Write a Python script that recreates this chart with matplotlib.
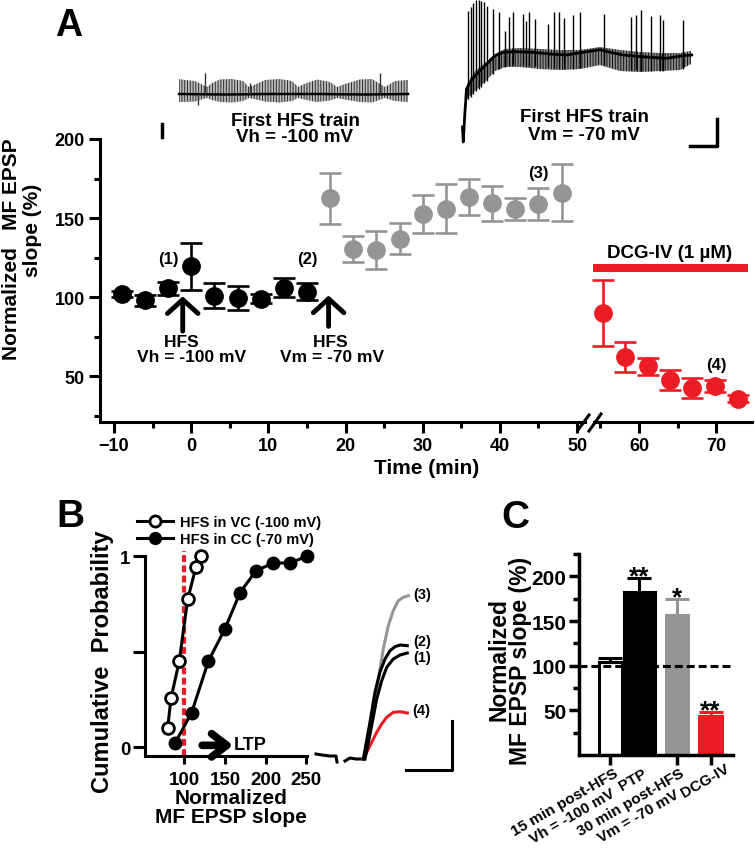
import matplotlib
matplotlib.use('Agg')
import matplotlib.pyplot as plt
from matplotlib.lines import Line2D

plt.rcParams['font.family'] = ['Liberation Sans', 'DejaVu Sans']
plt.rcParams['font.weight'] = 'bold'
plt.rcParams['axes.linewidth'] = 2.2
plt.rcParams['hatch.linewidth'] = 0.7

RED = '#ec1c24'
GRAY = '#959595'

# ---------------- Panel A data ----------------
t_base = [-9, -6, -3, 0, 3, 6, 9, 12, 15]
v_base = [102, 98, 105.5, 119.5, 101, 99.5, 99, 106, 103.5]
e_base = [2, 3.4, 4, 15, 8, 7.5, 3, 6, 5.5]
t_ltp = [18, 21, 24, 27, 30, 33, 36, 39, 42, 45, 48]
v_ltp = [162.5, 130.5, 130, 137, 152.3, 156, 163.5, 159.3, 155.7, 158.7, 166]
e_ltp = [16, 8, 12, 10, 12, 15.5, 11.5, 11, 7, 10, 18]
t_dcg = [55.3, 58.2, 61.2, 64, 66.9, 69.9, 72.8]
v_dcg = [90, 62.2, 56.3, 47.5, 42.6, 43.7, 35.8]
e_dcg = [21, 9.5, 5.3, 6.3, 6.5, 3.7, 2]
dcg_period = [54.0, 74.2]

# ---------------- Panel B data ----------------
vc_x = [79.6, 83.6, 93.8, 104.2, 114.4, 120.6]
vc_y = [0.10, 0.255, 0.45, 0.775, 0.945, 1.0]
cc_x = [88.5, 109, 129.6, 150, 168.6, 188.3, 209.6, 230, 250.7]
cc_y = [0.02, 0.18, 0.45, 0.62, 0.81, 0.925, 0.965, 0.965, 1.0]

# EPSP traces (inset units)
bl1_t = [16, 22, 30, 36, 37]
bl1_v = [25, 24, 23, 23, 17]
bl2_t = [45, 50, 56, 63]
bl2_v = [18, 21, 20, 20]
tr3_t = [63.3, 68.3, 73.3, 78.3, 83.3, 88.3, 93.3, 98.3, 103.3, 108.3]
tr3_v = [20, 40, 66.7, 100, 130, 153.3, 168.3, 178.3, 181.7, 183.3]
tr2_t = [63.3, 70, 75, 80, 85, 90, 95, 100, 107.3]
tr2_v = [20, 57, 87, 107, 120, 128.3, 132.3, 134, 133.3]
tr1_t = [65, 71.7, 76.7, 81.7, 86.7, 93.3, 100, 107.3]
tr1_v = [20, 53.3, 80, 98.3, 111.7, 120, 124, 126]
tr4_t = [63.3, 66.7, 71.7, 76.7, 81.7, 86.7, 93.3, 100, 107.3]
tr4_v = [20, 26.7, 36.7, 46.7, 55, 61.7, 66.7, 67.3, 66]

# ---------------- Panel C data ----------------
c_labels = ['15 min post-HFS\nVh = -100 mV', 'PTP', '30 min post-HFS\nVm = -70 mV', 'DCG-IV']
c_vals = [104.5, 183, 156.7, 44]
c_err = [4, 15, 18, 3.8]
c_pos = [0, 0.87, 2, 3]
c_stars = ['', '**', '*', '**']

# ---------------- HFS train traces (inset units) ----------------
h1_x = [179, 185, 195, 203, 207, 212, 220, 232, 243, 249, 254, 265, 280, 292, 298, 304, 317, 330, 337, 345, 360, 372, 385, 395, 408]
h1_top = [80, 81, 82, 86, 88, 84, 80.5, 80, 82, 88, 86, 81, 80, 82, 88, 85, 80.5, 83, 88, 85, 80.5, 80, 88, 82, 81]
h1_bot = [103, 103, 102.5, 100, 99, 101, 103, 103.5, 102, 99, 100, 102.5, 103.5, 102, 99, 100.5, 103, 101.5, 99, 100.5, 103, 103.5, 99, 102, 103]
h1_base = [95, 95.5, 95, 95, 95.5, 95]
h1_base_x = [179, 225, 270, 320, 365, 408]
h1_spk_x = [198, 205, 250, 380]
h1_spk_top = [95, 74, 84, 74]
h1_spk_bot = [106, 95, 95, 95]

h2_x = [462.5, 463.3, 464.5, 466.5, 470, 475, 480, 485, 490, 495, 503.3, 516.7, 533.3, 550, 566.7, 583.3, 600, 610, 623.3, 636.7, 650, 666.7, 683.3, 691.7]
h2_y = [128, 143, 120, 90, 83.3, 76.7, 71.7, 66.7, 61.7, 56.7, 53.3, 52.7, 53.3, 55, 56, 53.3, 50.7, 53.3, 56, 57.3, 58.3, 59.3, 56.7, 56]
h2_band_x = [467, 475, 485, 495, 505, 520, 540, 560, 580, 600, 620, 640, 660, 680, 691]
h2_band_lo = [100, 92, 83, 72, 68, 68, 70, 71, 70, 66, 72, 73, 72, 71, 65]
h2_band_hi = [85, 72, 64, 55, 50, 49, 50, 51, 51, 48, 51, 53, 54, 54, 52]
h2_spk_x = [468.3, 470.7, 473.3, 476, 478.7, 481.3, 484, 486.7, 492.7, 499.3, 505, 509.3, 513.3, 522.7, 526, 529, 535, 548.3, 554.3, 559, 564.3, 573.3, 580, 604.3, 631, 635.7, 641, 651, 660, 663.3, 683.3]
h2_spk_top = [11.7, 8.3, 4, 1, 0.7, 1.7, 3.3, 6.7, 10, 12.7, 31.7, 18.3, 13.3, 15, 21.7, 13.3, 20, 25, 13.3, 12.7, 19.3, 16, 12.7, 15, 18.3, 16, 10.7, 17.3, 16, 20.7, 20.7]
h2_spk_bot = [100, 98, 95, 92, 90, 88, 84, 82, 75, 70, 68, 66, 66, 66, 67, 67, 67, 68, 69, 69, 70, 70, 69, 66, 71, 71, 72, 72, 72, 72, 70]

W, H = 755, 853
fig = plt.figure(figsize=(W / 100, H / 100), dpi=100)


def fx(px):
    return px / W


def fy(py):
    return 1 - py / H


def box(l, t, r, b):
    return [fx(l), fy(b), (r - l) / W, (b - t) / H]


# ======================= Panel A =======================
axA1 = fig.add_axes(box(100, 140, 585, 423))
axA2 = fig.add_axes(box(594, 140, 752, 423))
for ax in (axA1, axA2):
    ax.set_ylim(21, 200)
    ax.spines[['top', 'right']].set_visible(False)
    ax.patch.set_alpha(0)
axA1.set_xlim(-11.82, 51.03)
axA2.set_xlim(54.16, 74.67)
axA2.spines['left'].set_visible(False)
axA2.set_yticks([])

ekw = dict(fmt='o', ms=12.5, capsize=8, elinewidth=1.9, capthick=1.9, clip_on=False, zorder=3)
axA1.errorbar(t_base, v_base, yerr=e_base, color='black', **ekw)
axA1.errorbar(t_ltp, v_ltp, yerr=e_ltp, color=GRAY, **ekw)
axA2.errorbar(t_dcg, v_dcg, yerr=e_dcg, color=RED, **ekw)

axA1.set_xticks([-10, 0, 10, 20, 30, 40, 50])
axA1.set_xticks([-5, 5, 15, 25, 35, 45], minor=True)
axA2.set_xticks([60, 70])
axA2.set_xticks([55, 65], minor=True)
axA1.set_yticks([50, 100, 150, 200])
axA1.set_yticks([25, 75, 125, 175], minor=True)
for ax in (axA1, axA2):
    ax.tick_params(which='major', length=8, width=2.2, labelsize=13, pad=3)
    ax.tick_params(which='minor', length=4, width=2.2)

# break marks
for (x0, y0, x1, y1) in [(578, 431, 589, 416), (589, 432, 601, 415)]:
    fig.add_artist(Line2D([fx(x0), fx(x1)], [fy(y0), fy(y1)], color='black', lw=2.2,
                          transform=fig.transFigure))

axA1.text(-3, 124.5, '(1)', ha='center', va='center', fontsize=12)
axA1.text(15, 124.5, '(2)', ha='center', va='center', fontsize=12)
axA1.text(45, 178.5, '(3)', ha='center', va='center', fontsize=12)
axA2.text(70, 57.5, '(4)', ha='center', va='center', fontsize=12)

arw = dict(arrowstyle='->,head_length=0.5,head_width=0.55', lw=3.5, color='black',
           mutation_scale=20, shrinkA=0, shrinkB=0)
axA1.annotate('', xy=(-1.1, 100.5), xytext=(-1.1, 78.5), arrowprops=arw)
axA1.text(0.0, 67, 'HFS    \nVh = -100 mV', ha='center', va='center', fontsize=12.5,
          multialignment='center', linespacing=1.0)
axA1.annotate('', xy=(17.8, 101), xytext=(17.8, 81.5), arrowprops=arw)
axA1.text(18.3, 67, 'HFS \nVm = -70 mV', ha='center', va='center', fontsize=12.5,
          multialignment='center', linespacing=1.0)

axA2.plot(dcg_period, [118.4, 118.4], color=RED, lw=5.8, solid_capstyle='butt', clip_on=False)
axA2.text(64.0, 128.5, 'DCG-IV (1 µM)', ha='center', va='center', fontsize=13.5)

fig.text(fx(11.5), fy(249), 'Normalized   MF EPSP', rotation=90, ha='center', va='center', fontsize=15)
fig.text(fx(32.5), fy(230), 'slope (%)', rotation=90, ha='center', va='center', fontsize=15)
fig.text(fx(427), fy(469), 'Time (min)', ha='center', va='center', fontsize=15)

# ======================= HFS traces =======================
axT = fig.add_axes(box(0, 0, 755, 160))
axT.set_xlim(0, 755)
axT.set_ylim(160, 0)
axT.axis('off')
axT.fill_between(h1_x, h1_top, h1_bot, facecolor='#bdbdbd', edgecolor='#2e2e2e', hatch='||||||', lw=0)
axT.plot(h1_base_x, h1_base, color='black', lw=1.8)
axT.vlines(h1_spk_x, h1_spk_top, h1_spk_bot, color='#333333', lw=1.0)
axT.fill_between(h2_band_x, h2_band_hi, h2_band_lo, facecolor='#8a8a8a', edgecolor='#151515', hatch='||||||', lw=0)
axT.vlines(h2_spk_x, h2_spk_top, h2_spk_bot, color='black', lw=1.0)
axT.plot(h2_x, h2_y, color='black', lw=2.0)
# scale bars
axT.plot([161.7, 161.7], [125, 138], color='black', lw=2.5)
axT.plot([690, 717, 717], [147, 147, 120], color='black', lw=2.5)
axT.text(295, 122, 'First HFS train', ha='center', va='center', fontsize=13.5)
axT.text(295, 137.5, 'Vh = -100 mV', ha='center', va='center', fontsize=13.5)
axT.text(584, 117, 'First HFS train', ha='center', va='center', fontsize=13.5)
axT.text(584, 135, 'Vm = -70 mV', ha='center', va='center', fontsize=13.5)

# ======================= Panel B =======================
axB = fig.add_axes(box(145, 557.3, 306.7, 757))
axB.set_xlim(51.7, 250.5)
axB.set_ylim(-0.047, 1.0)
axB.spines[['top', 'right']].set_visible(False)
axB.patch.set_alpha(0)
axB.plot([100, 100], [-0.047, 1.026], color=RED, lw=3, ls=(0, (1.65, 0.8)), clip_on=False, zorder=2)
axB.plot(vc_x, vc_y, '-o', color='black', mfc='white', mec='black', ms=8.5, mew=2, lw=2.2,
         clip_on=False, zorder=3)
axB.plot(cc_x, cc_y, '-o', color='black', ms=9, lw=2.2, clip_on=False, zorder=3)
axB.set_xticks([100, 150, 200, 250])
axB.set_yticks([0, 0.5, 1])
axB.set_yticklabels(['0', '', '1'])
axB.tick_params(axis='x', length=6, width=2.2, labelsize=13.5, pad=5)
axB.tick_params(axis='y', length=8.5, width=2.2, labelsize=13.5, pad=2)
axB.annotate('', xy=(160, 0.009), xytext=(122, 0.009),
             arrowprops=dict(arrowstyle='->,head_length=0.55,head_width=0.42', lw=5.5, color='black',
                             mutation_scale=20, shrinkA=0, shrinkB=0))
axB.text(161, 0.012, 'LTP', ha='left', va='center', fontsize=13)
h_vc = Line2D([], [], color='black', marker='o', mfc='white', mec='black', ms=8, mew=2, lw=2.2)
h_cc = Line2D([], [], color='black', marker='o', ms=8.5, lw=2.2)
axB.legend([h_vc, h_cc], ['HFS in VC (-100 mV)', 'HFS in CC (-70 mV)'], loc='upper left',
           bbox_to_anchor=(fx(137), fy(516)), bbox_transform=fig.transFigure, frameon=False,
           fontsize=10.5, handlelength=2.5, handletextpad=0.45, labelspacing=0.2,
           borderpad=0, borderaxespad=0)
fig.text(fx(103), fy(662), 'Cumulative  Probability', rotation=90, ha='center', va='center', fontsize=17)
fig.text(fx(231), fy(799), 'Normalized', ha='center', va='center', fontsize=15)
fig.text(fx(231), fy(818), 'MF EPSP slope', ha='center', va='center', fontsize=15)

# EPSP traces inset
axE = fig.add_axes(box(300, 580, 480, 780))
axE.set_xlim(0, 180)
axE.set_ylim(0, 200)
axE.axis('off')
axE.plot(bl1_t, bl1_v, color='black', lw=2.2)
axE.plot(bl2_t, bl2_v, color='black', lw=2.2)
axE.plot(tr4_t, tr4_v, color=RED, lw=2.2)
axE.plot(tr3_t, tr3_v, color=GRAY, lw=2.2)
axE.plot(tr1_t, tr1_v, color='black', lw=2.2)
axE.plot(tr2_t, tr2_v, color='black', lw=2.2)
for lab, yv in [('(3)', 185), ('(2)', 137.7), ('(1)', 121.7), ('(4)', 69)]:
    axE.text(121.7, yv, lab, ha='center', va='center', fontsize=10.5)
axE.plot([106, 151.7, 151.7], [9.3, 9.3, 58.3], color='black', lw=2.2)

# ======================= Panel C =======================
axC = fig.add_axes(box(579, 555, 733, 756))
axC.set_xlim(-0.94, 3.67)
axC.set_ylim(0, 225)
axC.spines[['top', 'right']].set_visible(False)
axC.spines[['left', 'bottom']].set_linewidth(2.5)
axC.patch.set_alpha(0)
faces = ['white', 'black', GRAY, RED]
edges = ['black', 'black', GRAY, RED]
widths = [0.67, 0.95, 0.67, 0.67]
for p, v, e, fc, ec, w, s in zip(c_pos, c_vals, c_err, faces, edges, widths, c_stars):
    axC.bar(p, v, width=w, color=fc, edgecolor=ec, lw=2.2, zorder=2)
    axC.errorbar(p, v, yerr=[[0], [e]], color=ec, capsize=8.5, elinewidth=2.2, capthick=2.2, zorder=2)
    if s:
        axC.text(p, v + e - 6, s, ha='center', va='baseline', fontsize=19)
axC.axhline(100, color='black', lw=2.2, ls=(0, (2.6, 1.3)), zorder=4)
axC.set_xticks(c_pos)
axC.set_xticklabels([])
axC.xaxis.get_major_ticks()[1].tick1line.set_visible(False)
# category labels placed under their ticks, slanted, with small per-label nudges (pixels)
for p, lbl, (dx, dy) in zip(c_pos, c_labels, [(3, 0), (3, 0), (2, 0), (14, 5)]):
    axC.annotate(lbl, xy=(p, 0), xycoords=('data', 'axes fraction'), xytext=(dx, -11 + dy),
                 textcoords='offset pixels', rotation=30, ha='right', va='top',
                 rotation_mode='anchor', fontsize=11, multialignment='center', linespacing=1.15)
axC.set_yticks([50, 100, 150, 200])
axC.set_yticks([25, 75, 125, 175, 225], minor=True)
axC.tick_params(axis='x', length=7, width=2.5, pad=1)
axC.tick_params(axis='y', which='major', length=7, width=2.5, labelsize=15, pad=2)
axC.tick_params(axis='y', which='minor', length=4, width=2.5)
fig.text(fx(499), fy(660), 'Normalized', rotation=90, ha='center', va='center', fontsize=16.5)
fig.text(fx(521), fy(661), 'MF EPSP slope (%)', rotation=90, ha='center', va='center', fontsize=16.5)

# panel letters
fig.text(fx(69), fy(26), 'A', ha='center', va='center', fontsize=27)
fig.text(fx(70), fy(517), 'B', ha='center', va='center', fontsize=28)
fig.text(fx(515), fy(518), 'C', ha='center', va='center', fontsize=28)

fig.savefig('out.png', dpi=100)
